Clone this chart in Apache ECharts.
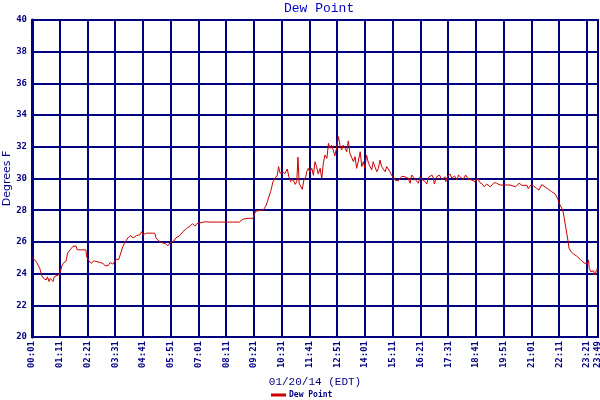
<!DOCTYPE html>
<html><head><meta charset="utf-8">
<script src="https://cdn.jsdelivr.net/npm/echarts@6/dist/echarts.min.js"></script>
<style>html,body{margin:0;padding:0;background:#fff}#c{width:600px;height:400px}</style>
</head><body><div id="c"></div>
<script>
// minute of day (00:01 = 1)
const times = [1,7,13,17,21,25,30,34,37,40,44,47,50,54,57,62,67,72,78,83,87,91,97,104,112,115,122,130,137,139,145,150,152,157,162,165,170,173,180,185,193,198,205,213,220,225,230,236,243,249,253,256,265,273,278,281,290,304,311,314,319,328,337,344,351,357,364,374,382,391,400,406,412,417,425,437,442,450,470,490,510,524,526,533,546,559,561,566,584,591,596,603,609,614,620,623,627,634,639,645,649,654,660,665,669,672,675,680,683,687,692,694,698,702,707,711,715,719,723,728,732,736,740,745,749,753,757,761,765,770,774,778,782,786,791,795,799,803,808,812,816,820,824,829,833,837,841,845,850,854,858,862,866,871,875,879,883,887,892,896,900,904,908,913,917,925,930,934,942,950,955,959,962,969,976,980,986,993,997,1001,1010,1014,1016,1022,1029,1035,1043,1045,1050,1056,1060,1067,1073,1077,1083,1089,1095,1102,1110,1119,1125,1131,1137,1142,1148,1157,1161,1167,1173,1177,1182,1194,1207,1221,1230,1237,1250,1253,1260,1266,1274,1280,1287,1295,1304,1312,1321,1327,1331,1336,1340,1344,1348,1353,1356,1361,1367,1375,1384,1390,1396,1403,1405,1407,1411,1415,1418,1421,1426,1429];
const dewPoint = [25.0,24.9,24.7,24.5,24.3,23.9,23.7,23.8,23.6,23.8,23.5,23.7,23.6,23.5,23.8,23.8,23.9,24.1,24.6,24.7,24.8,25.3,25.5,25.7,25.75,25.5,25.5,25.5,25.5,25.05,24.8,24.65,24.55,24.8,24.7,24.75,24.8,24.7,24.65,24.5,24.5,24.7,24.6,24.9,24.9,25.3,25.7,26.0,26.25,26.4,26.4,26.25,26.4,26.45,26.65,26.45,26.55,26.55,26.55,26.25,26.1,25.95,25.9,25.75,26.0,26.0,26.25,26.4,26.65,26.85,27.0,27.15,27.0,27.15,27.2,27.27,27.35,27.25,27.25,27.25,27.25,27.25,27.13,27.43,27.49,27.49,27.7,27.95,28.0,28.26,28.64,29.17,29.8,30.0,30.22,30.75,30.33,30.43,30.3,30.6,30.12,29.8,29.95,29.63,29.8,31.34,29.7,29.8,29.32,29.91,30.12,30.43,30.64,30.4,30.64,30.2,31.06,30.75,30.3,30.64,30.0,30.96,31.48,31.27,32.22,31.9,32.1,31.8,31.43,32.0,32.64,32.1,31.8,32.1,31.9,31.69,32.37,31.6,31.48,31.06,31.38,30.64,31.06,31.69,30.75,31.06,30.64,31.48,30.96,30.85,30.54,31.06,30.75,30.43,30.64,31.17,30.75,30.85,30.43,30.75,30.64,30.43,30.22,30.05,29.9,29.85,29.76,30.14,30.11,30.01,29.7,30.22,30.11,29.91,29.7,30.11,29.91,29.8,29.65,30.07,30.22,30.01,29.65,30.11,30.22,29.91,30.11,29.8,30.16,30.28,30.01,30.16,29.91,30.22,30.07,29.95,30.22,29.95,29.91,29.8,30.01,29.74,29.65,29.48,29.65,29.48,29.53,29.74,29.7,29.74,29.59,29.59,29.59,29.48,29.7,29.57,29.57,29.36,29.61,29.53,29.38,29.27,29.61,29.48,29.32,29.17,29.02,28.75,28.43,28.33,28.01,27.49,26.86,26.12,25.6,25.38,25.24,25.11,24.9,24.75,24.65,24.65,24.86,24.33,24.12,24.02,24.18,23.91,24.27,24.2];
const xStart = 1;      // 00:01
const xEnd = 1429;     // 23:49
const xStep = 70;
const yMin = 20, yMax = 40, yStep = 2;
const titleText = 'Dew Point';
const xName = '01/20/14 (EDT)';
const yName = 'Degrees F';
const seriesName = 'Dew Point';

const NAVY = '#000080';
const pad = n => (n < 10 ? '0' : '') + n;
const fmt = v => { const m = Math.round(v) + xStart; return pad(Math.floor(m / 60)) + ':' + pad(m % 60); };
const seriesData = times.map((t, i) => [t - xStart, dewPoint[i]]);

const chart = echarts.init(document.getElementById('c'), null, {renderer: 'canvas'});
chart.setOption({
  animation: false,
  backgroundColor: '#fff',
  title: {
    text: titleText, left: 279, top: -3,
    textStyle: {fontFamily: 'Liberation Mono', fontSize: 13, fontWeight: 'normal', color: '#0000c0'}
  },
  legend: {
    data: [seriesName], left: 266, top: 386,
    icon: 'rect', itemWidth: 15, itemHeight: 3, itemGap: 4,
    textStyle: {fontFamily: 'DejaVu Sans Mono', fontSize: 8, fontWeight: 'bold', color: NAVY, padding: [0,0,0,-2]}
  },
  grid: {left: 32, right: 2, top: 20, bottom: 63, show: true, borderColor: NAVY, borderWidth: 2,
    containLabel: false, outerBoundsMode: 'none'},
  xAxis: {
    type: 'value', min: 0, max: xEnd - xStart, interval: xStep,
    name: xName, nameLocation: 'middle', nameGap: 40, nameMoveOverlap: false,
    nameTextStyle: {fontFamily: 'Liberation Mono', fontSize: 11, color: NAVY},
    axisLine: {show: true, lineStyle: {color: NAVY, width: 2}},
    axisTick: {show: false},
    axisLabel: {rotate: 90, margin: 4, formatter: fmt, showMaxLabel: true, showMinLabel: true, hideOverlap: false,
      fontFamily: 'DejaVu Sans Mono', fontSize: 9, fontWeight: 'bold', color: NAVY},
    splitLine: {show: true, lineStyle: {color: NAVY, width: 2}}
  },
  yAxis: {
    type: 'value', min: yMin, max: yMax, interval: yStep,
    name: yName, nameLocation: 'middle', nameGap: 19, nameMoveOverlap: false,
    nameTextStyle: {fontFamily: 'DejaVu Sans', fontSize: 11, color: NAVY},
    axisLine: {show: true, lineStyle: {color: NAVY, width: 3}},
    axisTick: {show: false},
    axisLabel: {margin: 5, fontFamily: 'DejaVu Sans Mono', fontSize: 9, fontWeight: 'bold', color: NAVY},
    splitLine: {show: true, lineStyle: {color: NAVY, width: 2}}
  },
  series: [{
    name: seriesName, type: 'line', data: seriesData, symbol: 'none',
    lineStyle: {color: '#cc0000', width: 1}, itemStyle: {color: '#cc0000'}
  }]
});
</script>
</body></html>
